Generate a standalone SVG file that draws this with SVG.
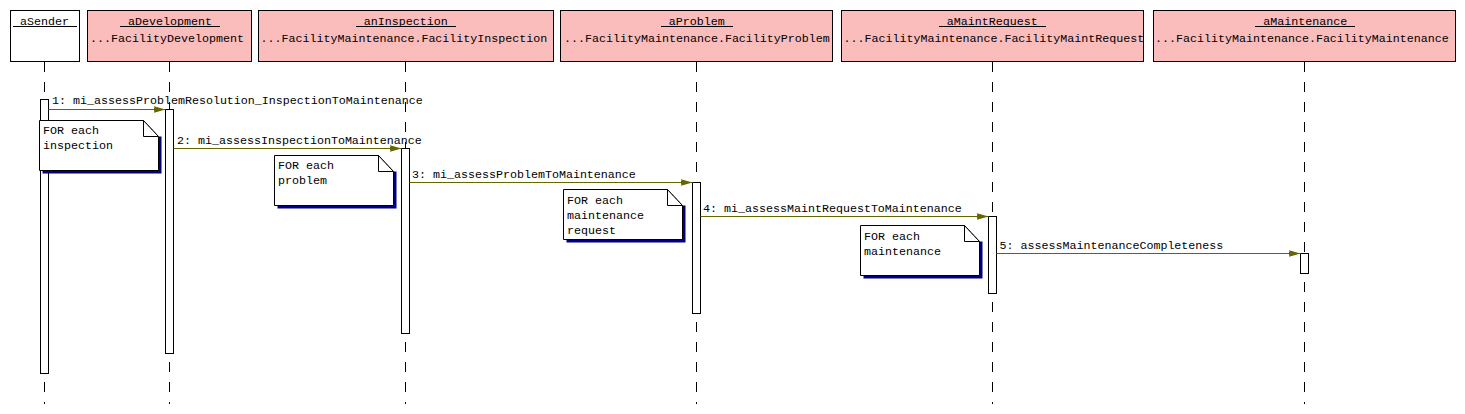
<svg xmlns="http://www.w3.org/2000/svg" width="1465" height="414" viewBox="0 0 1465 414">
<style>
text{font-family:"Liberation Mono","DejaVu Sans Mono",monospace;font-size:11.67px;fill:#000}
.hdr{fill:#fbbcbc;stroke:#000;stroke-width:1}
.snd{fill:#fff;stroke:#000;stroke-width:1}
.ul{stroke:#000;stroke-width:1}
.life{stroke:#000;stroke-width:1;stroke-dasharray:10 10;fill:none}
.bar{fill:#fff;stroke:#000;stroke-width:1}
.msg{stroke:#666600;stroke-width:1;fill:none;marker-end:url(#ah)}
.note{fill:#fff;stroke:#000;stroke-width:1}
.fold{fill:none;stroke:#000;stroke-width:1}
.dfold{fill:none;stroke:#000;stroke-width:1;stroke-dasharray:1 1}
.shadow{fill:#000080}
.nm{text-anchor:middle}
</style>
<defs>
<marker id="ah" markerUnits="userSpaceOnUse" markerWidth="13" markerHeight="9" refX="12" refY="4" orient="auto">
<path d="M0,0.5 L12,4 L0,7.5 L2.5,4 z" fill="#666600"/>
<rect x="0" y="2" width="4" height="4" fill="#666600"/>
</marker>
<clipPath id="cpMR"><rect x="841" y="10" width="302" height="52"/></clipPath>
<clipPath id="cpPB"><rect x="560" y="10" width="272" height="52"/></clipPath>
</defs>

<g id="lifelines">
<line class="life" x1="44.5" y1="62" x2="44.5" y2="404"/>
<line class="life" x1="169.5" y1="62" x2="169.5" y2="404"/>
<line class="life" x1="405.5" y1="62" x2="405.5" y2="404"/>
<line class="life" x1="696.5" y1="62" x2="696.5" y2="404"/>
<line class="life" x1="992.5" y1="62" x2="992.5" y2="404"/>
<line class="life" x1="1304.5" y1="62" x2="1304.5" y2="404"/>
</g>

<g id="aSender">
<rect class="snd" x="10.5" y="10.5" width="69" height="51"/>
<text class="nm" x="44.5" y="25">aSender</text>
<line class="ul" x1="13" y1="26.5" x2="77" y2="26.5"/>
<rect class="bar" x="40.5" y="99.5" width="8" height="274"/>
</g>

<g id="aDevelopment">
<rect class="hdr" x="87.5" y="10.5" width="164" height="51"/>
<text class="nm" x="170" y="25">aDevelopment</text>
<line class="ul" x1="120" y1="26.5" x2="220" y2="26.5"/>
<text x="90" y="41.5">...FacilityDevelopment</text>
<rect class="bar" x="165.5" y="109.5" width="8" height="244"/>
</g>

<g id="anInspection">
<rect class="hdr" x="258.5" y="10.5" width="295" height="51"/>
<text class="nm" x="405.8" y="25">anInspection</text>
<line class="ul" x1="356" y1="26.5" x2="456" y2="26.5"/>
<text x="260.5" y="41.5">...FacilityMaintenance.FacilityInspection</text>
<rect class="bar" x="401.5" y="148.5" width="8" height="185"/>
</g>

<g id="aProblem">
<rect class="hdr" x="560.5" y="10.5" width="272" height="51"/>
<text class="nm" x="696.8" y="25">aProblem</text>
<line class="ul" x1="661" y1="26.5" x2="733" y2="26.5"/>
<text x="564" y="41.5" clip-path="url(#cpPB)">...FacilityMaintenance.FacilityProblem</text>
<rect class="bar" x="692.5" y="182.5" width="8" height="131"/>
</g>

<g id="aMaintRequest">
<rect class="hdr" x="841.5" y="10.5" width="302" height="51"/>
<text class="nm" x="992.3" y="25">aMaintRequest</text>
<line class="ul" x1="939" y1="26.5" x2="1046" y2="26.5"/>
<text x="843.5" y="41.5" clip-path="url(#cpMR)">...FacilityMaintenance.FacilityMaintRequest</text>
<rect class="bar" x="988.5" y="216.5" width="8" height="77"/>
</g>

<g id="aMaintenance">
<rect class="hdr" x="1153.5" y="10.5" width="302" height="51"/>
<text class="nm" x="1305.2" y="25">aMaintenance</text>
<line class="ul" x1="1255" y1="26.5" x2="1355" y2="26.5"/>
<text x="1155" y="41.5">...FacilityMaintenance.FacilityMaintenance</text>
<rect class="bar" x="1300.5" y="253.5" width="8" height="20"/>
</g>

<g id="connectors">
<line class="msg" x1="48.5" y1="109.5" x2="165.5" y2="109.5"/>
<text x="52" y="104">1: mi_assessProblemResolution_InspectionToMaintenance</text>
<line class="msg" x1="173.5" y1="148.5" x2="401.5" y2="148.5"/>
<text x="177" y="144">2: mi_assessInspectionToMaintenance</text>
<line class="msg" x1="409.5" y1="182.5" x2="692.5" y2="182.5"/>
<text x="412" y="178">3: mi_assessProblemToMaintenance</text>
<line class="msg" x1="700.5" y1="216.5" x2="988.5" y2="216.5"/>
<text x="703" y="212">4: mi_assessMaintRequestToMaintenance</text>
<line class="msg" x1="996.5" y1="253.5" x2="1300.5" y2="253.5"/>
<text x="999.5" y="249">5: assessMaintenanceCompleteness</text>
</g>

<g id="note1" transform="translate(39.5,120.5)">
<path class="shadow" d="M119,16 h3 v37 h-119 v-3 h116 z"/>
<path class="note" d="M0,0 H104 L119,16 V50 H0 Z"/>
<path class="fold" d="M104,0 V16 H119"/>
<path class="dfold" d="M104,0 L119,16"/>
<text x="3.5" y="13.5">FOR each</text>
<text x="3.5" y="28.5">inspection</text>
</g>

<g id="note2" transform="translate(274.5,155.5)">
<path class="shadow" d="M119,16 h3 v37 h-119 v-3 h116 z"/>
<path class="note" d="M0,0 H104 L119,16 V50 H0 Z"/>
<path class="fold" d="M104,0 V16 H119"/>
<path class="dfold" d="M104,0 L119,16"/>
<text x="3.5" y="13.5">FOR each</text>
<text x="3.5" y="28.5">problem</text>
</g>

<g id="note3" transform="translate(563.5,189.5)">
<path class="shadow" d="M119,16 h3 v37 h-119 v-3 h116 z"/>
<path class="note" d="M0,0 H104 L119,16 V50 H0 Z"/>
<path class="fold" d="M104,0 V16 H119"/>
<path class="dfold" d="M104,0 L119,16"/>
<text x="3.5" y="14">FOR each</text>
<text x="3.5" y="29">maintenance</text>
<text x="3.5" y="44">request</text>
</g>

<g id="note4" transform="translate(860.5,225.5)">
<path class="shadow" d="M119,16 h3 v37 h-119 v-3 h116 z"/>
<path class="note" d="M0,0 H104 L119,16 V50 H0 Z"/>
<path class="fold" d="M104,0 V16 H119"/>
<path class="dfold" d="M104,0 L119,16"/>
<text x="3.5" y="14">FOR each</text>
<text x="3.5" y="29">maintenance</text>
</g>
</svg>
